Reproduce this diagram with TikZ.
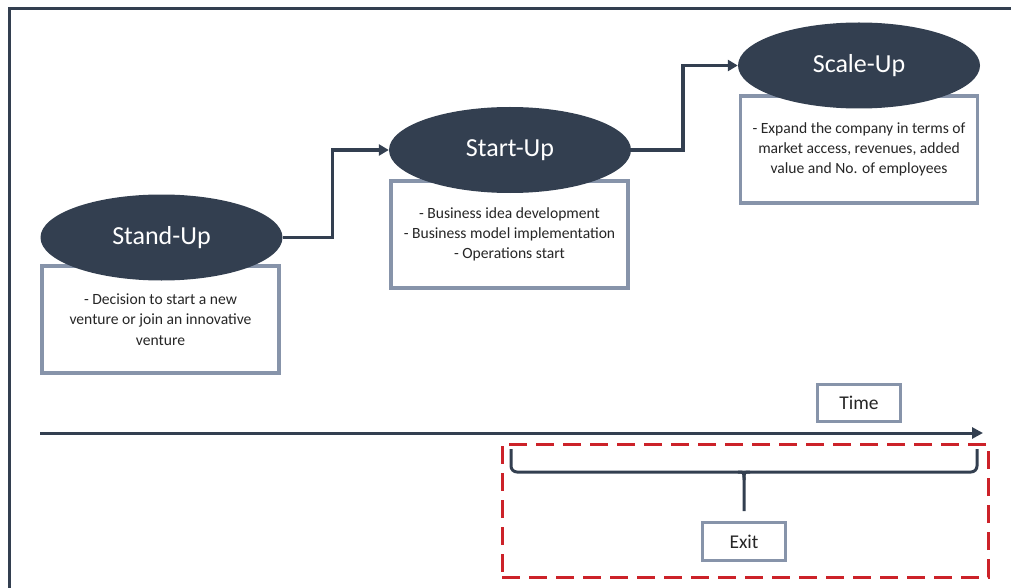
\documentclass[tikz,border=0pt]{standalone}
\usepackage{fontspec}
\setmainfont{Carlito}
\usetikzlibrary{arrows.meta,shapes.geometric}
\definecolor{navy}{HTML}{333F50}
\definecolor{boxgray}{HTML}{8794AA}
\definecolor{exitred}{HTML}{CC2229}
\definecolor{txt}{HTML}{262626}
\begin{document}
\begin{tikzpicture}[x=1pt,y=-1pt,
  stage/.style={ellipse, fill=navy, draw=none, minimum width=242pt, minimum height=86pt,
    inner sep=0pt, text=white, font=\fontsize{26}{30}\selectfont},
  infobox/.style={rectangle, draw=boxgray, line width=3.5pt, fill=white, inner sep=0pt,
    minimum width=237pt, minimum height=107pt, align=center, text=txt,
    font=\fontsize{15.6}{20.3}\selectfont},
  labelbox/.style={rectangle, draw=boxgray, line width=3.5pt, fill=white, inner sep=0pt,
    text=txt, font=\fontsize{19.5}{22}\selectfont},
  conn/.style={draw=navy, line width=3.5pt, -{Triangle[length=10pt,width=11pt]}},
  axis/.style={draw=navy, line width=3pt, -{Triangle[length=11pt,width=11pt]}},
  zonebox/.style={rectangle, draw=exitred, line width=3pt, dash pattern=on 18pt off 9pt,
    minimum width=486pt, minimum height=133pt, inner sep=0pt},
  bracket/.style={draw=navy, line width=3pt, rounded corners=6pt},
  frame/.style={draw=navy, line width=3pt}
]
\useasboundingbox (0,0) rectangle (1011,588);
% frame
\coordinate (fbl) at (9,588);
\coordinate (ftl) at (9,9);
\coordinate (ftr) at (1011,9);
\draw[frame] (fbl) -- (ftl) -- (ftr);

% info boxes
\node[infobox] (standbox) at (160.5,319.5) {- Decision to start a new\\venture or join an innovative\\venture};
\node[infobox] (startbox) at (509.5,234.5) {- Business idea development\\- Business model implementation\\- Operations start};
\node[infobox] (scalebox) at (859,149.5) {- Expand the company in terms of\\market access, revenues, added\\value and No. of employees};

% stages
\node[stage] (stand) at (161.5,237.5) {Stand-Up};
\node[stage] (start) at (510,150) {Start-Up};
\node[stage] (scale) at (859,65.5) {Scale-Up};

% connectors
\draw[conn] (stand.east) -- ++(50,0) |- (start.west);
\draw[conn] (start.east) -- ++(52,0) |- (scale.west);

% time axis
\coordinate (t0) at (40,433);
\coordinate (t1) at (983,433);
\draw[axis] (t0) -- (t1);
\node[labelbox, minimum width=83pt, minimum height=37pt] (time) at (859,403) {Time};

% exit zone
\node[zonebox] (zone) at (745,510.5) {};
\node[labelbox, minimum width=83pt, minimum height=38pt] (exit) at (744,541.5) {Exit};

% brace
\coordinate (bl) at (511,449);
\coordinate (br) at (977,449);
\coordinate (bm) at (744,472);
\coordinate (bt) at (744,511);
\draw[bracket] (bl) -- (511,472) -- (bm);
\draw[bracket] (br) -- (977,472) -- (bm);
\draw[draw=navy, line width=3pt] (738,472) .. controls (744,472) .. (744,480) -- (bt);
\draw[draw=navy, line width=3pt] (750,472) .. controls (744,472) .. (744,480);
\end{tikzpicture}
\end{document}
